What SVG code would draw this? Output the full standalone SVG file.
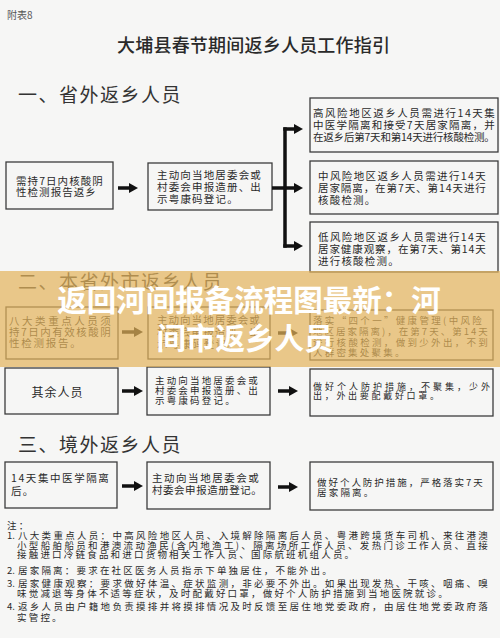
<svg xmlns="http://www.w3.org/2000/svg" width="500" height="638" viewBox="0 0 500 638">
<style>
text{font-family:"Noto Sans CJK SC","Noto Sans CJK JP",sans-serif;fill:#2a2a2a}
.box{fill:none;stroke:#3c3c3c;stroke-width:1.3}
.bt{font-size:10.5px;letter-spacing:1.2px}
.sm{font-size:9.5px;letter-spacing:2.2px}
.nt{font-size:9.5px;letter-spacing:2.2px}
.h{font-size:19px;letter-spacing:1.5px;fill:#333}
.conn{stroke:#111;stroke-width:3.5;fill:none}
.arr{stroke:#111;stroke-width:3.5;fill:none;marker-end:url(#ah)}
.bn{font-size:29.5px;font-weight:700;fill:#fff}
</style>
<defs>
<marker id="ah" markerUnits="userSpaceOnUse" markerWidth="10" markerHeight="10" refX="3" refY="5" orient="auto">
<path d="M0,0 L9,5 L0,10 z" fill="#111"/>
</marker>
</defs>
<rect x="0" y="0" width="500" height="638" fill="#f6f6f5"/>

<g id="header">
<text x="7" y="19" style="font-size:10px;fill:#555">附表8</text>
<text x="117" y="52" style="font-size:18px;font-weight:500" textLength="273" lengthAdjust="spacing">大埔县春节期间返乡人员工作指引</text>
</g>

<g id="sec1-title"><text class="h" x="18" y="102">一、省外返乡人员</text></g>

<g id="s1-n1">
<rect class="box" x="6" y="162" width="107" height="47"/>
<text class="bt" x="16" y="185" textLength="88" lengthAdjust="spacing">需持7日内核酸阴</text>
<text class="bt" x="16" y="196" textLength="81" lengthAdjust="spacing">性检测报告返乡</text>
</g>
<g id="s1-n2">
<rect class="box" x="148" y="163" width="124" height="47"/>
<text class="bt" x="157" y="179" textLength="105" lengthAdjust="spacing">主动向当地居委会或</text>
<text class="bt" x="157" y="191" textLength="105" lengthAdjust="spacing">村委会申报造册、出</text>
<text class="bt" x="157" y="202.5">示粤康码登记。</text>
</g>
<g id="s1-n3">
<rect class="box" x="310" y="98" width="188" height="54"/>
<text class="bt" x="313" y="117" textLength="183" lengthAdjust="spacing">高风险地区返乡人员需进行14天集</text>
<text class="bt" x="313" y="129" textLength="183" lengthAdjust="spacing">中医学隔离和接受7天居家隔离，并</text>
<text class="bt" x="313" y="141" textLength="183" lengthAdjust="spacing">在返乡后第7天和第14天进行核酸检测。</text>
</g>
<g id="s1-n4">
<rect class="box" x="310" y="161" width="188" height="53"/>
<text class="bt" x="318" y="180" textLength="169" lengthAdjust="spacing">中风险地区返乡人员需进行14天</text>
<text class="bt" x="318" y="192" textLength="169" lengthAdjust="spacing">居家隔离，在第7天、第14天进行</text>
<text class="bt" x="318" y="204">核酸检测。</text>
</g>
<g id="s1-n5">
<rect class="box" x="310" y="222" width="188" height="50"/>
<text class="bt" x="318" y="241" textLength="169" lengthAdjust="spacing">低风险地区返乡人员需进行14天</text>
<text class="bt" x="318" y="253" textLength="169" lengthAdjust="spacing">居家健康观察，在第7天、第14天</text>
<text class="bt" x="318" y="265">进行核酸检测。</text>
</g>

<g id="sec2-title"><text class="h" x="18" y="289">二、本省外市返乡人员</text></g>

<g id="s2-n1">
<rect class="box" x="6" y="307" width="112" height="52"/>
<text class="bt" x="9" y="325" textLength="103" lengthAdjust="spacing">八大类重点人员须</text>
<text class="bt" x="9" y="336" textLength="103" lengthAdjust="spacing">持7日内有效核酸阴</text>
<text class="bt" x="9" y="347" textLength="73" lengthAdjust="spacing">性检测报告。</text>
</g>
<g id="s2-n2">
<rect class="box" x="148" y="307" width="122" height="52"/>
<text class="bt" x="157" y="324" textLength="104" lengthAdjust="spacing">主动向当地居委会或</text>
<text class="bt" x="157" y="336" textLength="104" lengthAdjust="spacing">村委会申报造册、出</text>
<text class="bt" x="157" y="348">示粤康码登记。</text>
</g>
<g id="s2-n3">
<rect class="box" x="310" y="310" width="183" height="50"/>
<text class="sm" x="313" y="323.6" textLength="171" lengthAdjust="spacing">落实“四个一”健康管理(中风险</text>
<text class="sm" x="313" y="334.6" textLength="177" lengthAdjust="spacing">地区居家隔离)，在第7天、第14天</text>
<text class="sm" x="313" y="345.6" textLength="177" lengthAdjust="spacing">进行核酸检测，做到少外出，不到</text>
<text class="sm" x="313" y="355.6">人群密集处聚集。</text>
</g>
<g id="s2-n4">
<rect class="box" x="5" y="368" width="113" height="46"/>
<text x="57.5" y="396.6" text-anchor="middle" style="font-size:12px;letter-spacing:1px">其余人员</text>
</g>
<g id="s2-n5">
<rect class="box" x="147" y="367" width="123" height="48"/>
<text class="sm" x="155" y="383.6" textLength="105" lengthAdjust="spacing">主动向当地居委会或</text>
<text class="sm" x="155" y="393.6" textLength="105" lengthAdjust="spacing">村委会申报造册、出</text>
<text class="sm" x="155" y="403.8">示粤康码登记。</text>
</g>
<g id="s2-n6">
<rect class="box" x="310" y="369" width="183" height="47"/>
<text x="313" y="390.2" textLength="177" lengthAdjust="spacing" style="font-size:9px">做好个人防护措施，不聚集，少外</text>
<text x="313" y="399.4" style="font-size:9px;letter-spacing:2.7px">出，外出要配戴好口罩。</text>
</g>

<g id="sec3-title"><text class="h" x="18" y="452">三、境外返乡人员</text></g>

<g id="s3-n1">
<rect class="box" x="5" y="462" width="112" height="46"/>
<text class="bt" x="11" y="482" textLength="99" lengthAdjust="spacing">14天集中医学隔离</text>
<text class="bt" x="11" y="495">后。</text>
</g>
<g id="s3-n2">
<rect class="box" x="147" y="462" width="123" height="47"/>
<text class="bt" x="152" y="482" textLength="108" lengthAdjust="spacing">主动向当地居委会或</text>
<text class="bt" x="152" y="494" textLength="111" lengthAdjust="spacing">村委会申报造册登记。</text>
</g>
<g id="s3-n3">
<rect class="box" x="310" y="462" width="183" height="48"/>
<text class="sm" x="317" y="485.6" textLength="168" lengthAdjust="spacing">做好个人防护措施，严格落实7天</text>
<text class="sm" x="317" y="495.6">居家隔离。</text>
</g>

<g id="connectors">
<line class="arr" x1="118" y1="188" x2="132" y2="188"/>
<line class="conn" x1="272" y1="188" x2="286" y2="188"/>
<line class="conn" x1="285" y1="127.3" x2="285" y2="247.7"/>
<line class="arr" x1="283.3" y1="129" x2="297" y2="129"/>
<line class="arr" x1="285" y1="188" x2="297" y2="188"/>
<line class="arr" x1="283.3" y1="246" x2="297" y2="246"/>
<line class="arr" x1="122" y1="332" x2="137" y2="332"/>
<line class="arr" x1="278" y1="333" x2="292" y2="333"/>
<line class="arr" x1="122" y1="391" x2="137" y2="391"/>
<line class="arr" x1="278" y1="391" x2="292" y2="391"/>
<line class="arr" x1="122" y1="486" x2="137" y2="486"/>
<line class="arr" x1="278" y1="487" x2="292" y2="487"/>
</g>

<g id="notes">
<text class="nt" x="7" y="528.6">注：</text>
<text class="nt" x="7" y="538.6" style="letter-spacing:0">1.</text>
<text class="nt" x="18" y="538.6" textLength="472" lengthAdjust="spacing">八大类重点人员：中高风险地区人员、入境解除隔离后人员、粤港跨境货车司机、来往港澳</text>
<text class="nt" x="17" y="548.6" textLength="473" lengthAdjust="spacing">小型船舶船员和港澳流动渔民(含内地渔工)、隔离场所工作人员、发热门诊工作人员、直接</text>
<text class="nt" x="17" y="557.9">接触进口冷链食品和进口货物相关工作人员、国际航班机组人员。</text>
<text class="nt" x="7" y="573.6" style="letter-spacing:0">2.</text>
<text class="nt" x="18" y="573.6">居家隔离：要求在社区医务人员指示下单独居住，不能外出。</text>
<text class="nt" x="7" y="586.9" style="letter-spacing:0">3.</text>
<text class="nt" x="18" y="586.9" textLength="472" lengthAdjust="spacing">居家健康观察：要求做好体温、症状监测，非必要不外出。如果出现发热、干咳、咽痛、嗅</text>
<text class="nt" x="17" y="596.9">味觉减退等身体不适等症状，及时配戴好口罩，做好个人防护措施到当地医院就诊。</text>
<text class="nt" x="7" y="610.3" style="letter-spacing:0">4.</text>
<text class="nt" x="18" y="610.3" textLength="472" lengthAdjust="spacing">返乡人员由户籍地负责摸排并将摸排情况及时反馈至居住地党委政府，由居住地党委政府落</text>
<text class="nt" x="17" y="621.3">实管控。</text>
</g>

<g id="banner">
<rect x="0" y="271" width="500" height="96" fill="#E4B35B" fill-opacity="0.7"/>
<text class="bn" x="249" y="311" text-anchor="middle">返回河间报备流程图最新：河</text>
<text class="bn" x="245" y="349" text-anchor="middle">间市返乡人员</text>
</g>
</svg>
